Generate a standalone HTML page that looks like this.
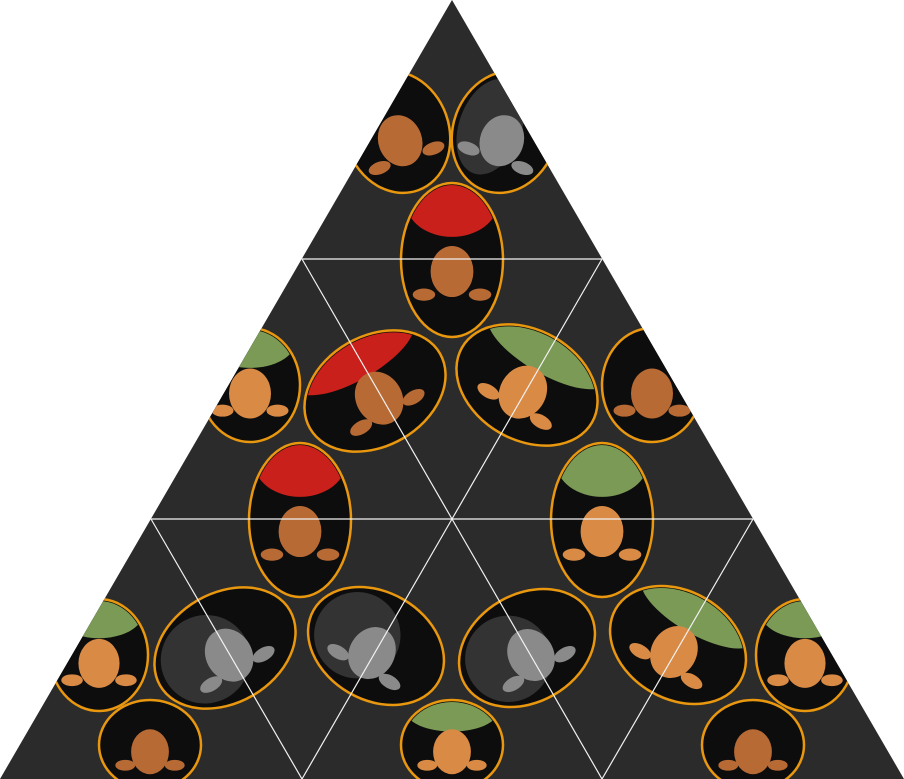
<!DOCTYPE html>
<html><head><meta charset="utf-8"><style>html,body{margin:0;padding:0;background:#fff;width:904px;height:779px;overflow:hidden}</style></head>
<body>
<svg width="904" height="779" viewBox="0 0 904 779" xmlns="http://www.w3.org/2000/svg">
<defs><clipPath id="tri"><polygon points="452,0 904,779 0,779"/></clipPath></defs>
<polygon points="452,0 904,779 0,779" fill="#2b2b2b"/>
<g clip-path="url(#tri)" id="tiles"></g>
<g stroke="#f2f2f2" stroke-width="1.2" fill="none" clip-path="url(#tri)">
<line x1="302" y1="259" x2="602" y2="259"/>
<line x1="151" y1="519" x2="753" y2="519"/>
<line x1="302" y1="259" x2="452" y2="519"/>
<line x1="602" y1="259" x2="452" y2="519"/>
<line x1="151" y1="519" x2="302" y2="779"/>
<line x1="452" y1="519" x2="302" y2="779"/>
<line x1="452" y1="519" x2="602" y2="779"/>
<line x1="753" y1="519" x2="602" y2="779"/>
</g>
</svg>
<script>
// [cx, cy, rx, ry, rotation, animal, accentColor]
const ellipses = [
 [397,132,52,62,-20,'deer','#111'],
 [505,132,52,62,20,'raccoon','#111'],
 [452,260,51,77,0,'deer','#c9201b'],
 [375,391,75,55,-30,'deer','#c9201b'],
 [527,385,75,55,30,'fox','#7a9a55'],
 [652,385,50,57,0,'deer','#111'],
 [250,385,50,57,0,'fox','#7a9a55'],
 [300,520,51,77,0,'deer','#c9201b'],
 [602,520,51,77,0,'fox','#7a9a55'],
 [225,648,75,55,-30,'raccoon','#111'],
 [376,646,72,54,30,'raccoon','#111'],
 [527,648,72,54,-30,'raccoon','#111'],
 [678,645,72,54,30,'fox','#7a9a55'],
 [99,655,49,56,0,'fox','#7a9a55'],
 [805,655,49,56,0,'fox','#7a9a55'],
 [150,745,51,45,0,'deer','#111'],
 [452,745,51,45,0,'fox','#7a9a55'],
 [753,745,51,45,0,'deer','#111']
];
const NS='http://www.w3.org/2000/svg';
const g=document.getElementById('tiles');
const faceColor={deer:'#b86a35',fox:'#d98a45',raccoon:'#8a8a8a'};
ellipses.forEach((e,i)=>{
  const [cx,cy,rx,ry,rot,animal,acc]=e;
  const grp=document.createElementNS(NS,'g');
  
  
  grp.setAttribute('transform',`translate(${cx},${cy}) rotate(${rot})`);
  const el=document.createElementNS(NS,'ellipse');
  el.setAttribute('rx',rx);el.setAttribute('ry',ry);
  el.setAttribute('fill','#0d0d0d');el.setAttribute('stroke','#e8970f');el.setAttribute('stroke-width','2.5');
  grp.appendChild(el);
  const cp=document.createElementNS(NS,'clipPath');cp.setAttribute('id','c'+i);
  const ce=document.createElementNS(NS,'ellipse');ce.setAttribute('rx',rx-2);ce.setAttribute('ry',ry-2);cp.appendChild(ce);grp.appendChild(cp);
  const inner=document.createElementNS(NS,'g');inner.setAttribute('clip-path',`url(#c${i})`);
  if(acc!=='#111'){const b=document.createElementNS(NS,'ellipse');b.setAttribute('cx',0);b.setAttribute('cy',-ry*0.75);b.setAttribute('rx',rx*0.9);b.setAttribute('ry',ry*0.45);b.setAttribute('fill',acc);inner.appendChild(b);}
  else if(animal==='raccoon'){const b=document.createElementNS(NS,'ellipse');b.setAttribute('cx',-rx*0.3);b.setAttribute('cy',0);b.setAttribute('rx',rx*0.6);b.setAttribute('ry',ry*0.8);b.setAttribute('fill','#333');inner.appendChild(b);}
  const f=document.createElementNS(NS,'ellipse');f.setAttribute('cx',0);f.setAttribute('cy',ry*0.15);f.setAttribute('rx',Math.min(rx,ry)*0.42);f.setAttribute('ry',Math.min(rx,ry)*0.5);f.setAttribute('fill',faceColor[animal]);inner.appendChild(f);
  [-1,1].forEach(s=>{const ear=document.createElementNS(NS,'ellipse');ear.setAttribute('cx',s*Math.min(rx,ry)*0.55);ear.setAttribute('cy',ry*0.45);ear.setAttribute('rx',Math.min(rx,ry)*0.22);ear.setAttribute('ry',Math.min(rx,ry)*0.12);ear.setAttribute('fill',faceColor[animal]);inner.appendChild(ear);});
  grp.appendChild(inner);
  g.appendChild(grp);
});
</script>
</body></html>
